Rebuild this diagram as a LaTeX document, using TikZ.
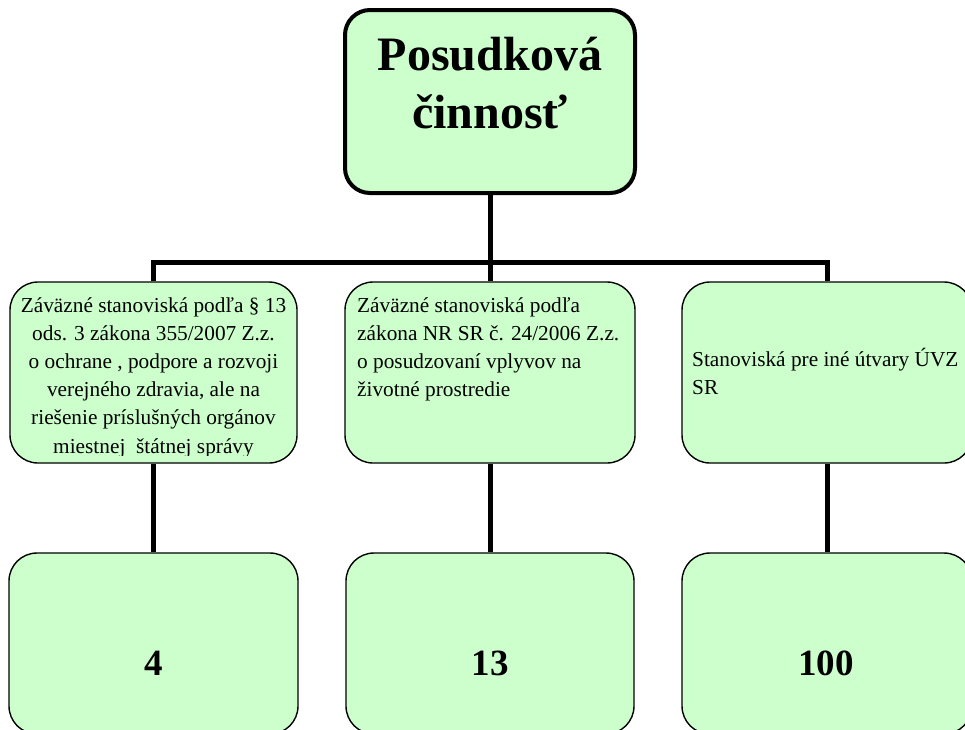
\documentclass[tikz,border=0pt]{standalone}
\usepackage{fontspec}
\setmainfont{Liberation Serif}
\definecolor{boxgreen}{HTML}{CCFFCC}
\begin{document}
\begin{tikzpicture}[x=1pt,y=-1pt,
  topbox/.style={draw=black, fill=boxgreen, rounded corners=25pt, line width=4pt,
    minimum width=290pt, minimum height=183pt, inner sep=0pt},
  midbox/.style={draw=black, fill=boxgreen, rounded corners=28pt, line width=1.4pt,
    minimum width=#1, minimum height=181pt, inner sep=0pt},
  conn/.style={draw=black, line width=5pt},
  bodytxt/.style={inner sep=0pt, anchor=base, font=\fontsize{21.3}{28.2}\selectfont},
  numtxt/.style={inner sep=0pt, anchor=base, font=\fontsize{37}{40}\selectfont\bfseries},
]
\useasboundingbox (0,0) rectangle (965,729);
\fill[white] (0,0) rectangle (965,729);

\coordinate (bus) at (490,262);

% top box
\node[topbox] (top) at (490,101.5) {};
\node[inner sep=0pt, anchor=base, align=center,
  font=\fontsize{48}{58}\selectfont\bfseries] (toptxt) at (490,128) {Posudková\\činnosť};

% middle row
\node[midbox=287pt] (a1) at (153.5,372.5) {};
\node[midbox=290pt] (b1) at (490,372.5) {};
\node[midbox=290pt] (c1) at (827,372.5) {};

% bottom row
\node[midbox=289pt] (a2) at (153.5,643.5) {};
\node[midbox=288pt] (b2) at (490,643.5) {};
\node[midbox=290pt] (c2) at (827,643.5) {};

% connectors
\draw[conn] (top.south) -- (top.south |- bus);
\draw[conn] (a1.north) |- (bus) -| (c1.north);
\draw[conn] (b1.north) -- (bus);
\draw[conn] (a1.south) -- (a2.north);
\draw[conn] (b1.south) -- (b2.north);
\draw[conn] (c1.south) -- (c2.north);

% texts
\begin{scope}
\clip (12,284) rectangle (296,455);
\node[bodytxt, align=center] (t1) at (153.5,453)
  {Záväzné stanoviská podľa § 13\\ods. 3 zákona 355/2007 Z.z.\\o ochrane , podpore a rozvoji\\verejného zdravia, ale na\\riešenie príslušných orgánov\\miestnej\ \ štátnej správy};
\end{scope}
\node[bodytxt, anchor=base west, align=left] (t2) at (357,396.6)
  {Záväzné stanoviská podľa\\zákona NR SR č. 24/2006 Z.z.\\o posudzovaní vplyvov na\\životné prostredie};
\node[bodytxt, anchor=base west, align=left] (t3) at (692,394.5)
  {Stanoviská pre iné útvary ÚVZ\\SR};

\node[numtxt] (n1) at (154,675) {4};
\node[numtxt] (n2) at (490,675) {13};
\node[numtxt] (n3) at (826,675) {100};
\end{tikzpicture}
\end{document}
